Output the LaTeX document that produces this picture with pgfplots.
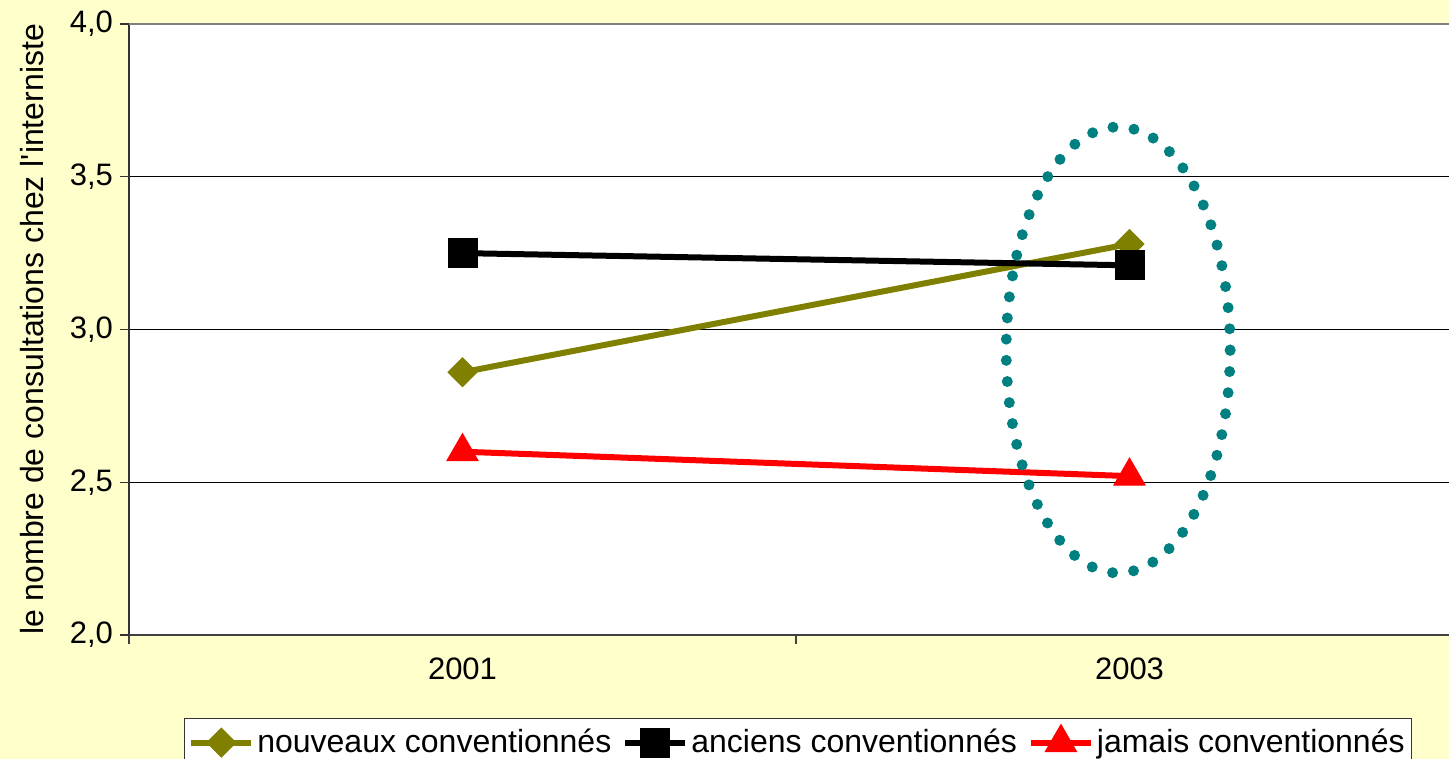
\documentclass[border=0pt]{standalone}
\usepackage{pgfplots}
\pgfplotsset{compat=1.18}
\usepackage{fontspec}
\setmainfont{Liberation Sans}[Ligatures=TeXOff]
\definecolor{bgy}{HTML}{FFFFCC}
\definecolor{olivec}{HTML}{808000}
\definecolor{tealc}{HTML}{008080}
\begin{document}
\begin{tikzpicture}
\fill[bgy] (-64.5pt,-62pt) rectangle (660pt,317.5pt);
\useasboundingbox (-64.5pt,-62pt) rectangle (660pt,317.5pt);
\begin{axis}[
  at={(0,0)}, anchor=south west,
  scale only axis, width=667pt, height=305.5pt,
  xmin=0.5, xmax=2.5, ymin=2, ymax=4,
  axis background/.style={fill=white},
  axis x line*=bottom, axis y line*=left,
  x axis line style={draw=black!75, line width=1pt},
  y axis line style={draw=black!80, line width=0.8pt},
  font=\fontsize{15.5}{18}\selectfont,
  ytick={2,2.5,3,3.5,4},
  yticklabels={{2,0},{2,5},{3,0},{3,5},{4,0}},
  ymajorgrids, grid style={black, line width=0.5pt},
  xtick={1,2}, xticklabels={2001,2003},
  xticklabel style={yshift=-3.5pt},
  major x tick style={draw=none},
  minor xtick={0.5,1.5,2.5},
  tick align=outside, major tick length=4.5pt, minor tick length=4.5pt,
  minor x tick style={black!75, line width=1pt},
  major y tick style={black!80, line width=0.6pt},
  ylabel={le nombre de consultations chez l'interniste},
  ylabel style={at={(axis description cs:-0.064,0.5)}, anchor=base, inner sep=0pt, font=\fontsize{16}{19}\selectfont},
  legend columns=-1,
  legend style={at={(axis description cs:0.5015,-0.1358)}, anchor=north,
    draw=black!80, fill=white, line width=0.6pt, inner xsep=2pt, inner ysep=3pt,
    font=\fontsize{16}{19}\selectfont,
    nodes={inner sep=1.5pt},
    /tikz/every even column/.append style={column sep=4pt}},
  legend image code/.code={\draw[mark repeat=2,mark phase=2,#1] plot coordinates {(0pt,0pt)(15pt,0pt)(30pt,0pt)};},
]
\addplot[olivec, line width=3pt, mark=square*, mark size=5.1pt, mark options={rotate=45, solid, fill=olivec, line width=0.5pt}]
  coordinates {(1,2.86) (2,3.28)};
\addlegendentry{nouveaux conventionnés}
\addplot[black, line width=3pt, mark=square*, mark size=7.25pt, mark options={solid, fill=black, line width=0.5pt}]
  coordinates {(1,3.25) (2,3.21)};
\addlegendentry{anciens conventionnés}
\addplot[red, line width=3pt, mark=triangle*, mark size=9pt, mark options={solid, fill=red, line width=0.5pt}]
  coordinates {(1,2.60) (2,2.52)};
\addlegendentry{jamais conventionnés}
\draw[black!50, line width=1pt] (rel axis cs:0,1) -- (rel axis cs:1,1);
\draw[tealc, line width=5.5pt, line cap=round, dash pattern=on 0pt off 10.6pt]
  (axis cs:1.983,2.933) ellipse [x radius=56pt, y radius=111.5pt];
\end{axis}
\end{tikzpicture}
\end{document}
